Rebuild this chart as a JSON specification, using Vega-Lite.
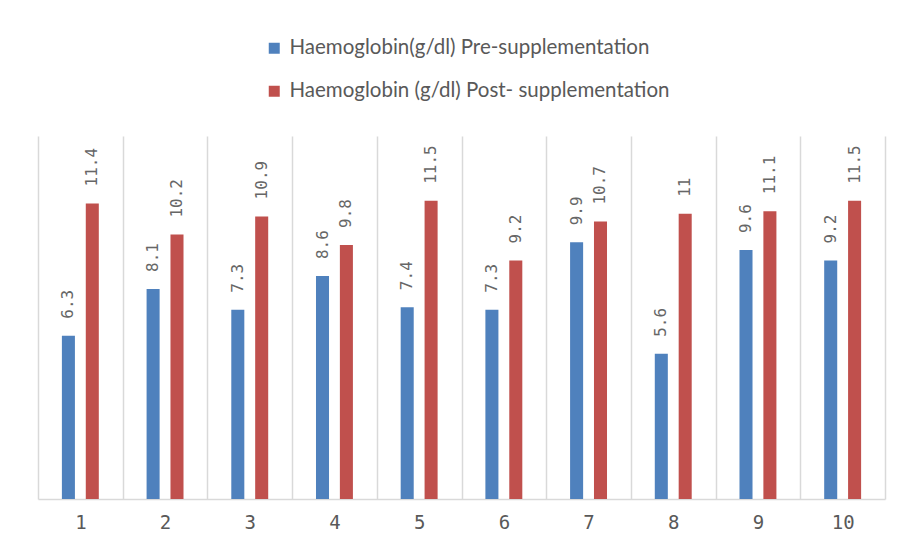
{
  "$schema": "https://vega.github.io/schema/vega-lite/v6.json",
  "width": 847,
  "height": 363,
  "autosize": {"type": "none"},
  "padding": {"left": 38, "top": 136, "right": 17, "bottom": 47},
  "background": "white",
  "config": {
    "view": {"stroke": null},
    "font": "Lato"
  },
  "data": {
    "values": [
      {"id": "1", "series": "Haemoglobin(g/dl) Pre-supplementation", "value": 6.3},
      {"id": "1", "series": "Haemoglobin (g/dl) Post- supplementation", "value": 11.4},
      {"id": "2", "series": "Haemoglobin(g/dl) Pre-supplementation", "value": 8.1},
      {"id": "2", "series": "Haemoglobin (g/dl) Post- supplementation", "value": 10.2},
      {"id": "3", "series": "Haemoglobin(g/dl) Pre-supplementation", "value": 7.3},
      {"id": "3", "series": "Haemoglobin (g/dl) Post- supplementation", "value": 10.9},
      {"id": "4", "series": "Haemoglobin(g/dl) Pre-supplementation", "value": 8.6},
      {"id": "4", "series": "Haemoglobin (g/dl) Post- supplementation", "value": 9.8},
      {"id": "5", "series": "Haemoglobin(g/dl) Pre-supplementation", "value": 7.4},
      {"id": "5", "series": "Haemoglobin (g/dl) Post- supplementation", "value": 11.5},
      {"id": "6", "series": "Haemoglobin(g/dl) Pre-supplementation", "value": 7.3},
      {"id": "6", "series": "Haemoglobin (g/dl) Post- supplementation", "value": 9.2},
      {"id": "7", "series": "Haemoglobin(g/dl) Pre-supplementation", "value": 9.9},
      {"id": "7", "series": "Haemoglobin (g/dl) Post- supplementation", "value": 10.7},
      {"id": "8", "series": "Haemoglobin(g/dl) Pre-supplementation", "value": 5.6},
      {"id": "8", "series": "Haemoglobin (g/dl) Post- supplementation", "value": 11},
      {"id": "9", "series": "Haemoglobin(g/dl) Pre-supplementation", "value": 9.6},
      {"id": "9", "series": "Haemoglobin (g/dl) Post- supplementation", "value": 11.1},
      {"id": "10", "series": "Haemoglobin(g/dl) Pre-supplementation", "value": 9.2},
      {"id": "10", "series": "Haemoglobin (g/dl) Post- supplementation", "value": 11.5}
    ]
  },
  "encoding": {
    "x": {
      "field": "id",
      "type": "nominal",
      "sort": null,
      "scale": {"paddingInner": 0, "paddingOuter": 0},
      "axis": {
        "title": null,
        "labelAngle": 0,
        "labelFont": "DejaVu Sans Mono",
        "labelFontSize": 19,
        "labelColor": "#595959",
        "labelPadding": 14,
        "ticks": false,
        "domainColor": "#d9d9d9",
        "domainWidth": 1.5,
        "grid": true,
        "gridColor": "#d9d9d9",
        "gridWidth": 1.5,
        "tickBand": "extent"
      }
    },
    "xOffset": {
      "field": "series",
      "type": "nominal",
      "sort": ["Haemoglobin(g/dl) Pre-supplementation", "Haemoglobin (g/dl) Post- supplementation"],
      "scale": {"paddingInner": 0.4545, "paddingOuter": 1.15}
    },
    "y": {
      "field": "value",
      "type": "quantitative",
      "scale": {"domain": [0, 14]},
      "axis": null
    }
  },
  "layer": [
    {
      "mark": {"type": "bar"},
      "encoding": {
        "color": {
          "field": "series",
          "type": "nominal",
          "sort": ["Haemoglobin(g/dl) Pre-supplementation", "Haemoglobin (g/dl) Post- supplementation"],
          "scale": {
            "domain": ["Haemoglobin(g/dl) Pre-supplementation", "Haemoglobin (g/dl) Post- supplementation"],
            "range": ["#4f81bd", "#c0504d"]
          },
          "legend": {
            "title": null,
            "orient": "none",
            "legendX": 226,
            "legendY": -98,
            "direction": "vertical",
            "symbolType": "square",
            "symbolSize": 121,
            "symbolStrokeWidth": 0,
            "symbolOpacity": 1,
            "labelFontSize": 20.5,
            "labelColor": "#595959",
            "labelLimit": 700,
            "rowPadding": 22,
            "labelOffset": 5
          }
        }
      }
    },
    {
      "mark": {
        "type": "text",
        "angle": -90,
        "align": "left",
        "baseline": "middle",
        "dx": 17,
        "font": "DejaVu Sans Mono",
        "fontSize": 16,
        "color": "#666666"
      },
      "encoding": {
        "text": {"field": "value", "type": "quantitative"}
      }
    }
  ]
}
